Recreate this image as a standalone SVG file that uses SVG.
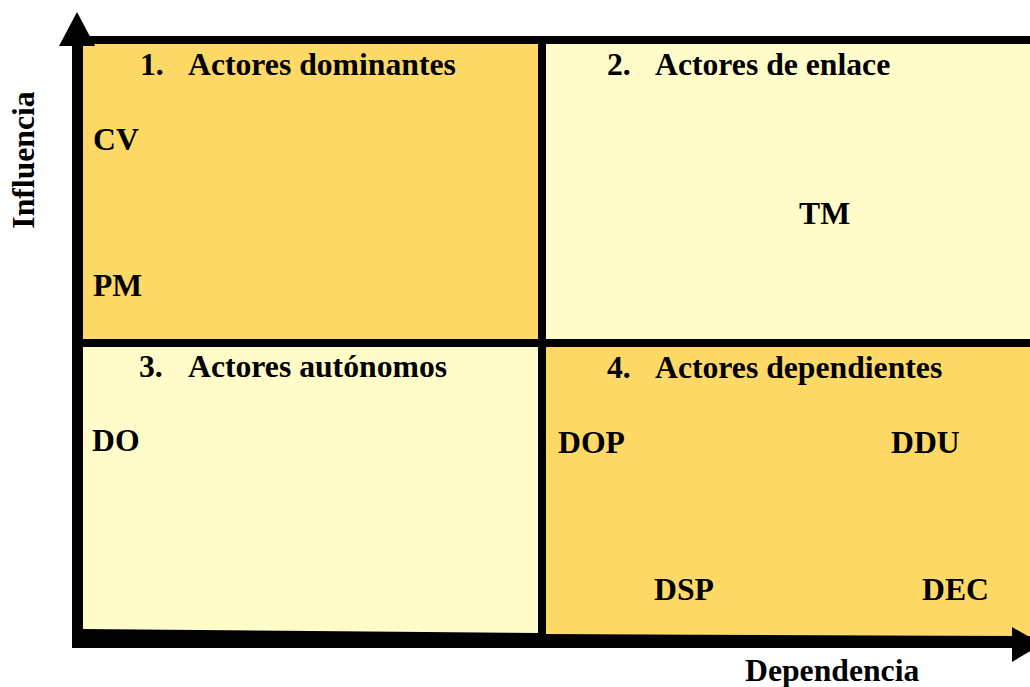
<svg xmlns="http://www.w3.org/2000/svg" width="1030" height="687" viewBox="0 0 1030 687">
<style>
.dark{fill:#FFD966}
.light{fill:#FFFCC9}
.ln{stroke:#000;fill:none}
text{font-family:"Liberation Serif","Times New Roman",serif;font-weight:bold;font-size:31.7px;fill:#000}
</style>
<rect width="1030" height="687" fill="#fff"/>
<g id="quadrant1"><rect class="dark" x="83" y="44" width="455" height="295"/>
<text x="140" y="75">1.</text><text x="188" y="75">Actores dominantes</text>
<text x="93" y="150">CV</text><text x="93" y="296">PM</text></g>
<g id="quadrant2"><rect class="light" x="546" y="44" width="484" height="295"/>
<text x="607" y="75">2.</text><text x="655" y="75">Actores de enlace</text>
<text x="799" y="224">TM</text></g>
<g id="quadrant3"><polygon class="light" points="83,347 538,347 538,633 83,629"/>
<text x="139" y="377">3.</text><text x="188" y="377">Actores autónomos</text>
<text x="92" y="451">DO</text></g>
<g id="quadrant4"><polygon class="dark" points="546,347 1030,347 1030,636 546,634"/>
<text x="607" y="378">4.</text><text x="655" y="378">Actores dependientes</text>
<text x="558" y="453">DOP</text><text x="891" y="453">DDU</text>
<text x="654" y="600">DSP</text><text x="922" y="600">DEC</text></g>
<g id="connectors">
<line class="ln" x1="73" y1="40" x2="1030" y2="40" stroke-width="8"/>
<line class="ln" x1="542" y1="40" x2="542" y2="640" stroke-width="8"/>
<line class="ln" x1="78" y1="343" x2="1030" y2="343" stroke-width="8"/>
<polygon fill="#000" points="83,629 538,633 546,634 1030,636 1030,648 72,648 72,629"/>
<line class="ln" x1="77.5" y1="44" x2="77.5" y2="648" stroke-width="11"/>
<polygon fill="#000" points="59,46 77,12 95,46"/>
<line class="ln" x1="72" y1="642.5" x2="1015" y2="642.5" stroke-width="11"/>
<polygon fill="#000" points="1012,627 1042,644 1012,662"/>
</g>
<text x="34" y="160" text-anchor="middle" transform="rotate(-90 34 160)">Influencia</text>
<text x="745" y="681">Dependencia</text>
</svg>
